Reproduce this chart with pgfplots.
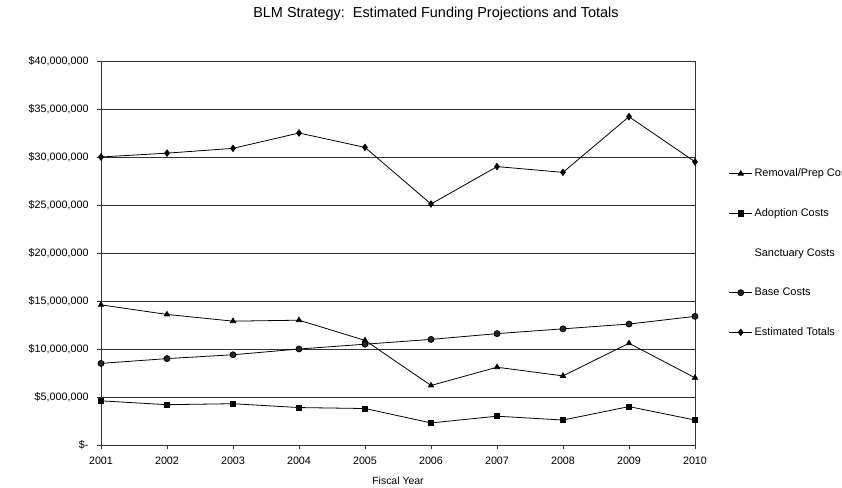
\documentclass[border=0pt]{standalone}
\usepackage{pgfplots}
\pgfplotsset{compat=1.18}
\usepackage{fontspec}
\setmainfont{Liberation Sans}
\begin{document}
\begin{tikzpicture}
\begin{axis}[
  name=ax, at={(0,0)}, anchor=south west,
  scale only axis, width=594bp, height=384bp,
  xmin=2001, xmax=2010, ymin=0, ymax=40,
  xtick={2001,2002,2003,2004,2005,2006,2007,2008,2009,2010},
  xticklabels={2001,2002,2003,2004,2005,2006,2007,2008,2009,2010},
  ytick={0,5,10,15,20,25,30,35,40},
  yticklabels={{\$-},{\$5,000,000},{\$10,000,000},{\$15,000,000},{\$20,000,000},{\$25,000,000},{\$30,000,000},{\$35,000,000},{\$40,000,000}},
  ymajorgrids, grid style={black!80, line width=0.5pt},
  axis line style={black!80, line width=0.6pt},
  tick align=outside, major tick length=4bp, tick style={black!80},
  xtick pos=bottom, ytick pos=left,
  tick label style={font=\fontsize{10.8}{12}\selectfont},
  xticklabel style={yshift=-4bp},
  yticklabel style={xshift=-5bp},
  xlabel={Fiscal Year}, xlabel style={font=\fontsize{10.5}{12}\selectfont, yshift=-6bp},
  legend style={at={(1.052,0.5)}, anchor=west, draw=none, fill=none,
    font=\fontsize{11}{13}\selectfont, row sep=26.5pt, legend cell align=left},
  legend image code/.code={\draw[mark repeat=2,mark phase=2] plot coordinates {(0cm,0cm)(0.4cm,0cm)(0.8cm,0cm)};},
]
\addplot[black, line width=0.8pt, mark=triangle*, mark size=3pt, mark options={solid, fill=black}] coordinates {
 (2001,14.6) (2002,13.6) (2003,12.9) (2004,13.0) (2005,10.9)
 (2006,6.2) (2007,8.1) (2008,7.2) (2009,10.6) (2010,7.0)};
\addlegendentry{Removal/Prep Costs}
\addplot[black, line width=0.8pt, mark=square*, mark size=2.6pt, mark options={solid, fill=black}] coordinates {
 (2001,4.6) (2002,4.2) (2003,4.3) (2004,3.9) (2005,3.8)
 (2006,2.3) (2007,3.0) (2008,2.6) (2009,4.0) (2010,2.6)};
\addlegendentry{Adoption Costs}
\addlegendimage{legend image code/.code={}}
\addlegendentry{Sanctuary Costs}
\addplot[black, line width=0.8pt, mark=*, mark size=3pt, mark options={solid, fill=black!85}] coordinates {
 (2001,8.5) (2002,9.0) (2003,9.4) (2004,10.0) (2005,10.5)
 (2006,11.0) (2007,11.6) (2008,12.1) (2009,12.6) (2010,13.4)};
\addlegendentry{Base Costs}
\addplot[black, line width=0.8pt, mark=diamond*, mark size=3.2pt, mark options={solid, fill=black}] coordinates {
 (2001,30.0) (2002,30.4) (2003,30.9) (2004,32.5) (2005,31.0)
 (2006,25.1) (2007,29.0) (2008,28.4) (2009,34.2) (2010,29.5)};
\addlegendentry{Estimated Totals}
\end{axis}
\path (ax.north west) ++(335bp,47bp) node[font=\fontsize{14.5}{16}\selectfont] {BLM Strategy:\ \ Estimated Funding Projections and Totals};
\pgfresetboundingbox
\path[use as bounding box] (ax.south west) ++(-101bp,-43bp) rectangle ++(842bp,488bp);
\end{tikzpicture}
\end{document}
